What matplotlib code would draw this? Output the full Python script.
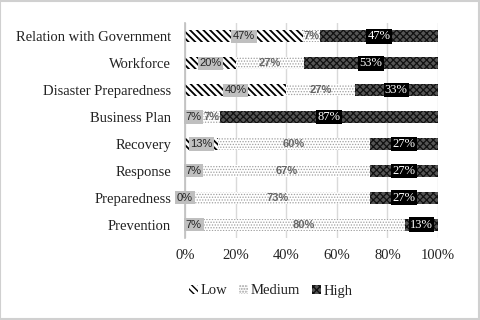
import matplotlib
matplotlib.use("Agg")
import matplotlib.pyplot as plt
import numpy as np
from matplotlib.patches import Patch

categories = ["Prevention", "Preparedness", "Response", "Recovery",
              "Business Plan", "Disaster Preparedness", "Workforce",
              "Relation with Government"]
low = [7, 0, 7, 13, 7, 40, 20, 47]
medium = [80, 73, 67, 60, 7, 27, 27, 7]
high = [13, 27, 27, 27, 87, 33, 53, 47]
xticks = [0, 20, 40, 60, 80, 100]
xtick_labels = ["0%", "20%", "40%", "60%", "80%", "100%"]
series_names = ["Low", "Medium", "High"]

serif = "Liberation Serif"
sans = "Liberation Sans"

fig = plt.figure(figsize=(4.8, 3.2), dpi=100)
fig.patch.set_facecolor("white")
ax = fig.add_axes([185/480, 1-238/320, 253/480, 215/320])

y = np.arange(len(categories))
L = np.array(low, float); M = np.array(medium, float); H = np.array(high, float)
tot = L + M + H
Ln, Mn, Hn = L/tot*100, M/tot*100, H/tot*100

styles = [
    dict(facecolor="white", edgecolor="black", hatch="\\" * 5, hlw=1.3),
    dict(facecolor="white", edgecolor="#a0a0a0", hatch="......", hlw=0.6),
    dict(facecolor="#555555", edgecolor="#111111", hatch="xxxxx", hlw=0.9),
]
left = np.zeros(len(categories))
conts = []
for vals, st in zip([Ln, Mn, Hn], styles):
    with plt.rc_context({"hatch.linewidth": st["hlw"]}):
        bars = ax.barh(y, vals, left=left, height=0.45, facecolor=st["facecolor"],
                       edgecolor=st["edgecolor"], hatch=st["hatch"], linewidth=0, zorder=3)
        for b in bars:
            if hasattr(b, "set_hatch_linewidth"):
                b.set_hatch_linewidth(st["hlw"])
    conts.append((vals, left.copy()))
    left = left + vals

raw = [low, medium, high]
for i, (vals, lft) in enumerate(conts):
    for j in range(len(categories)):
        xc = lft[j] + vals[j]/2
        txt = f"{raw[i][j]}%"
        if i == 0:
            ax.text(xc, y[j], txt, ha="center", va="center", fontsize=8, family=sans,
                    color="#222222", zorder=5,
                    bbox=dict(boxstyle="square,pad=0.15", facecolor="#bfbfbf", edgecolor="none"))
        elif i == 1:
            ax.text(xc, y[j], txt, ha="center", va="center", fontsize=8, family=sans,
                    color="#666666", fontweight="bold", zorder=5)
        else:
            ax.text(xc, y[j], txt, ha="center", va="center", fontsize=9, family=serif,
                    color="white", zorder=5,
                    bbox=dict(boxstyle="square,pad=0.1", facecolor="black", edgecolor="none"))

ax.set_xlim(0, 100)
ax.set_ylim(-0.5, len(categories) - 0.5)
ax.set_xticks(xticks)
ax.set_xticklabels(xtick_labels, family=serif, fontsize=10.5, color="#222222")
ax.set_yticks(y)
ax.set_yticklabels(categories, family=serif, fontsize=10.5, color="#222222")
ax.tick_params(axis="both", length=0, pad=8)
ax.tick_params(axis="y", pad=10)
ax.grid(axis="x", color="#d9d9d9", linewidth=1, zorder=0)
for s in ["top", "right", "bottom"]:
    ax.spines[s].set_visible(False)
ax.spines["left"].set_color("#bfbfbf")
ax.spines["left"].set_linewidth(1.2)
ax.spines["left"].set_zorder(4)

handles = []
for name, st in zip(series_names, styles):
    with plt.rc_context({"hatch.linewidth": st["hlw"]}):
        p = Patch(facecolor=st["facecolor"], edgecolor=st["edgecolor"], hatch=st["hatch"],
                  linewidth=0, label=name)
    handles.append(p)
fig.legend(handles=handles, loc="center left", bbox_to_anchor=(176/480, 1-291/320),
           ncol=3, frameon=False, prop={"family": serif, "size": 10.5},
           handlelength=0.6, handleheight=0.6, handletextpad=0.2, columnspacing=0.8,
           labelcolor="#222222")

fig.add_artist(plt.Rectangle((0.001, 0.002), 0.997, 0.995, transform=fig.transFigure,
                             fill=False, edgecolor="#d0d0d0", linewidth=1.5))
fig.savefig("out.png", dpi=100, facecolor="white")
